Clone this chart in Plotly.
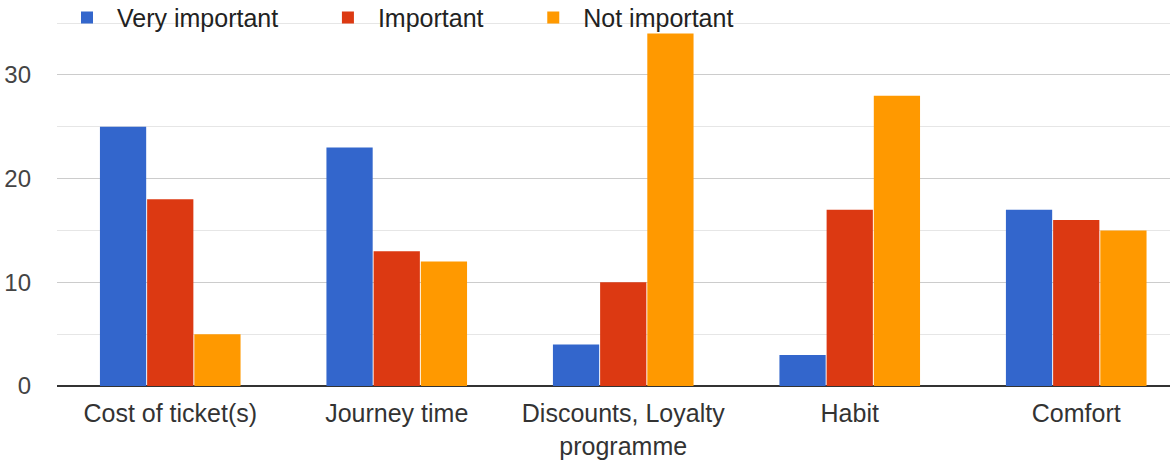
import plotly.graph_objects as go

categories = ["Cost of ticket(s)", "Journey time", "Discounts, Loyalty<br>programme", "Habit", "Comfort"]
very_important = [25, 23, 4, 3, 17]
important = [18, 13, 10, 17, 16]
not_important = [5, 12, 34, 28, 15]
series_names = ["Very important", "Important", "Not important"]
colors = ["#3366cc", "#dc3912", "#ff9900"]

pad = "\u00a0" * 5
fig = go.Figure()
for name, vals, col in zip(series_names, [very_important, important, not_important], colors):
    fig.add_trace(go.Bar(x=categories, y=vals, name=name + pad, marker=dict(color=col, line=dict(width=0))))

fig.update_layout(
    width=1170, height=461,
    margin=dict(l=57, r=0, t=22, b=75, autoexpand=False),
    paper_bgcolor="white", plot_bgcolor="white",
    barmode="group", bargap=0.375, bargroupgap=0.02,
    font=dict(family="Liberation Sans, Arial, sans-serif", size=25, color="#333333"),
    legend=dict(orientation="h", x=0.0, xanchor="left", y=1.012, yanchor="middle",
                bgcolor="rgba(255,255,255,0)", font=dict(size=25, color="#222222"),
                itemwidth=50, traceorder="normal"),
    showlegend=True,
)
fig.update_xaxes(showgrid=False, showline=False, ticks="", range=[-0.5, 4.414],
                 ticklabelstandoff=10, tickfont=dict(size=25, color="#333333"))
fig.update_yaxes(range=[0, 35.1], tickvals=[0, 10, 20, 30], showgrid=True, gridcolor="#cccccc", gridwidth=1,
                 minor=dict(tickvals=[5, 15, 25, 35], showgrid=True, gridcolor="#e6e6e6", gridwidth=1),
                 zeroline=True, zerolinecolor="#333333", zerolinewidth=2,
                 ticks="", ticklabelstandoff=25, tickfont=dict(size=24, color="#444444"))

fig.write_html("out.html")
